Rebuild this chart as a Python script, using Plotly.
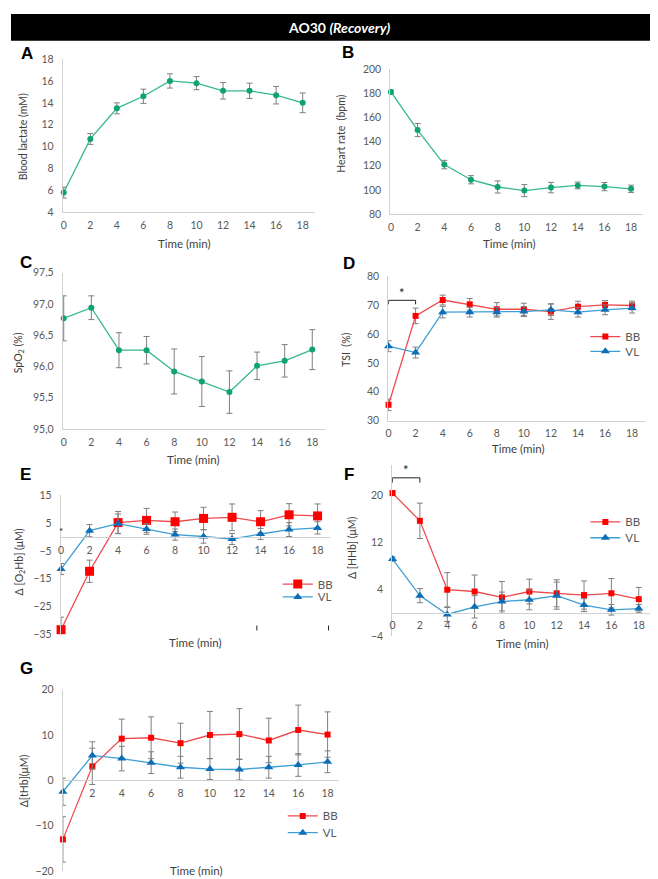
import plotly.graph_objects as go

W, H = 658, 879

# ---------------- data ----------------
time_min = [0, 2, 4, 6, 8, 10, 12, 14, 16, 18]

lactate = [5.8, 10.7, 13.5, 14.6, 16.0, 15.8, 15.1, 15.1, 14.7, 14.0]
lactate_sd = [0.5, 0.5, 0.5, 0.65, 0.65, 0.6, 0.75, 0.7, 0.8, 0.9]

heart_rate = [181, 149.5, 121, 108.5, 102.5, 99.5, 102, 103.8, 102.8, 101]
heart_rate_sd = [1.6, 5.4, 3.5, 3.4, 5, 5, 4.3, 2.8, 3.4, 3]

spo2 = [96.77, 96.94, 96.26, 96.26, 95.92, 95.76, 95.59, 96.01, 96.09, 96.27]
spo2_sd = [0.36, 0.19, 0.28, 0.22, 0.36, 0.4, 0.34, 0.22, 0.26, 0.32]

tsi_bb = [35.5, 66.3, 71.8, 70.3, 68.6, 68.6, 67.8, 69.5, 70.1, 69.9]
tsi_bb_sd = [2.0, 2.7, 1.7, 2.0, 2.3, 2.1, 2.7, 1.9, 1.5, 1.5]
tsi_vl = [55.8, 53.6, 67.6, 67.6, 67.6, 67.8, 68.4, 67.6, 68.4, 69.0]
tsi_vl_sd = [1.9, 1.9, 2.0, 1.7, 1.7, 1.7, 2.0, 1.7, 1.7, 1.7]

o2hb_bb = [-33.3, -12.3, 5.2, 6.0, 5.5, 6.7, 7.1, 5.5, 8.0, 7.6]
o2hb_bb_sd = [4.5, 4.0, 4.0, 4.3, 3.5, 4.0, 4.8, 4.0, 4.0, 4.3]
o2hb_vl = [-11.5, 2.3, 4.8, 2.9, 0.9, 0.2, -0.7, 1.1, 2.7, 3.3]
o2hb_vl_sd = [2.0, 2.2, 3.5, 1.9, 2.0, 2.4, 2.0, 2.0, 2.5, 2.2]

hhb_bb = [20.3, 15.6, 3.9, 3.6, 2.6, 3.6, 3.3, 3.0, 3.3, 2.3]
hhb_bb_sd = [0.4, 3.0, 2.9, 2.8, 2.7, 2.1, 2.3, 2.4, 2.5, 2.0]
hhb_vl = [9.1, 2.9, -0.3, 1.0, 1.9, 2.2, 2.9, 1.3, 0.5, 0.7]
hhb_vl_sd = [0.4, 1.2, 1.2, 1.9, 1.6, 1.7, 2.3, 1.1, 0.9, 0.7]

thb_bb = [-13.0, 3.1, 9.2, 9.4, 8.2, 10.0, 10.2, 8.8, 11.1, 10.1]
thb_bb_sd = [5.0, 4.0, 4.3, 4.6, 4.4, 5.2, 5.6, 4.9, 5.5, 5.0]
thb_vl = [-2.5, 5.5, 4.8, 3.9, 2.9, 2.5, 2.4, 2.9, 3.4, 4.1]
thb_vl_sd = [3.0, 3.0, 2.7, 2.4, 2.4, 2.3, 2.3, 2.4, 2.5, 2.4]

# significance brackets (from time, to time, level, tick end, star level)
sig_d = (0, 2, 71.7, 70.3, 74.1)
sig_f = (0, 2, 22.9, 22.1, 24.3)

# ---------------- style ----------------
FONT = "Lato"
TICK_COL = "#595959"
TITLE_COL = "#404040"
AXIS_COL = "#d0d0d0"
ERR_COL = "#7f7f7f"
GREEN_LINE = "#35b88c"
GREEN = "#0ea46c"
RED_LINE = "#ee4a4e"
RED = "#ff0000"
BLUE_LINE = "#3d9fd4"
BLUE = "#0d6db6"


def dx(a, b):
    return [a / W, b / W]


def dy(top, bottom):
    return [1 - bottom / H, 1 - top / H]


fig = go.Figure()

panels = {
    1: dict(xd=(52, 305), xr=[-0.075, 18.9], yd=(45.7, 201), yr=[4, 18], yt=list(range(4, 19, 2)), free=None),
    2: dict(xd=(381, 635), xr=[-0.05, 18.9], yd=(55.7, 203), yr=[80, 200], yt=list(range(80, 201, 20)), free=None),
    3: dict(xd=(52, 315), xr=[-0.07, 18.89], yd=(262.3, 420.7), yr=[95, 97.5], yt=[95, 95.5, 96, 96.5, 97, 97.5], free=None),
    4: dict(xd=(379, 637), xr=[-0.02, 18.96], yd=(266, 412.3), yr=[30, 80], yt=list(range(30, 81, 10)), free=None),
    5: dict(xd=(50, 320), xr=[-0.02, 18.84], yd=(488, 629), yr=[-35, 15], yt=list(range(-35, 16, 10)), free=530.3),
    6: dict(xd=(383, 643), xr=[-0.02, 18.9], yd=(457.7, 630.9), yr=[-4, 25], yt=[-4, 4, 12, 20], free=607),
    7: dict(xd=(52, 330), xr=[-0.01, 18.81], yd=(685, 869), yr=[-20, 20], yt=[-20, -10, 0, 10, 20], free=777),
}

layout_axes = {}
for i, p in panels.items():
    xk = "xaxis" if i == 1 else f"xaxis{i}"
    yk = "yaxis" if i == 1 else f"yaxis{i}"
    xa = "x" if i == 1 else f"x{i}"
    ya = "y" if i == 1 else f"y{i}"
    xticks = time_min if i != 7 else time_min[1:]
    xax = dict(domain=dx(*p["xd"]), range=p["xr"], showgrid=False, zeroline=False,
               showline=True, linecolor=AXIS_COL, linewidth=1, ticks="",
               tickvals=xticks, ticktext=[str(t) for t in xticks],
               tickfont=dict(family=FONT, size=10.5, color=TICK_COL), ticklabelstandoff=3)
    if p["free"] is None:
        xax["anchor"] = ya
    else:
        xax["anchor"] = "free"
        xax["position"] = 1 - p["free"] / H
    yax = dict(domain=dy(*p["yd"]), range=p["yr"], anchor=xa, showgrid=False, zeroline=False,
               showline=True, linecolor=AXIS_COL, linewidth=1, ticks="",
               tickvals=p["yt"], tickfont=dict(family=FONT, size=10.5, color=TICK_COL),
               ticklabelstandoff=6)
    if i == 3:
        yax["tickformat"] = ".1f"
    layout_axes[xk] = xax
    layout_axes[yk] = yax


def err(arr):
    return dict(type="data", array=arr, color=ERR_COL, thickness=1, width=3)


def single(y, sd, i):
    xa = "x" if i == 1 else f"x{i}"
    ya = "y" if i == 1 else f"y{i}"
    fig.add_trace(go.Scatter(x=time_min, y=y, error_y=err(sd), mode="lines+markers",
                             line=dict(color=GREEN_LINE, width=1.3),
                             marker=dict(color=GREEN, size=6, symbol="circle"),
                             xaxis=xa, yaxis=ya, showlegend=False, cliponaxis=False))


single(lactate, lactate_sd, 1)
single(heart_rate, heart_rate_sd, 2)
single(spo2, spo2_sd, 3)


def pair(bb, bb_sd, vl, vl_sd, i, leg_bb, leg_vl, bb_size=6, vl_size=8):
    xa = f"x{i}"
    ya = f"y{i}"
    fig.add_trace(go.Scatter(x=time_min, y=bb, error_y=err(bb_sd), mode="lines+markers", name="BB",
                             line=dict(color=RED_LINE, width=1.3),
                             marker=dict(color=RED, size=bb_size, symbol="square"),
                             xaxis=xa, yaxis=ya, legend=leg_bb, cliponaxis=False))
    fig.add_trace(go.Scatter(x=time_min, y=vl, error_y=err(vl_sd), mode="lines+markers", name="VL",
                             line=dict(color=BLUE_LINE, width=1.3),
                             marker=dict(color=BLUE, size=vl_size, symbol="triangle-up"),
                             xaxis=xa, yaxis=ya, legend=leg_vl, cliponaxis=False))


pair(tsi_bb, tsi_bb_sd, tsi_vl, tsi_vl_sd, 4, "legend", "legend2")
pair(o2hb_bb, o2hb_bb_sd, o2hb_vl, o2hb_vl_sd, 5, "legend3", "legend4", bb_size=9, vl_size=8)
pair(hhb_bb, hhb_bb_sd, hhb_vl, hhb_vl_sd, 6, "legend5", "legend6")
pair(thb_bb, thb_bb_sd, thb_vl, thb_vl_sd, 7, "legend7", "legend8")

shapes = []
annotations = []
for sig, i in ((sig_d, 4), (sig_f, 6)):
    x0, x1, lev, low, star = sig
    shapes.append(dict(type="path", xref=f"x{i}", yref=f"y{i}",
                       path=f"M {x0},{low} L {x0},{lev} L {x1},{lev} L {x1},{low}",
                       line=dict(color="#202020", width=1)))
    annotations.append(dict(x=(x0 + x1) / 2, y=star, xref=f"x{i}", yref=f"y{i}", text="*",
                            showarrow=False, font=dict(family=FONT, size=13, color="#202020"),
                            yanchor="middle"))

annotations.append(dict(x=0, y=2.0, xref="x5", yref="y5", text="*", showarrow=False,
                        font=dict(family=FONT, size=10, color="#202020")))

# title bar
shapes.append(dict(type="rect", xref="paper", yref="paper", x0=0, x1=1, y0=1 - 27 / H, y1=1,
                   fillcolor="black", line=dict(width=0), layer="below"))
annotations.append(dict(x=0.5, y=1 - 14 / H, xref="paper", yref="paper",
                        text="<b>AO30 <i>(Recovery)</i></b>", showarrow=False,
                        font=dict(family=FONT, size=14, color="white"), yanchor="middle"))

# stray ticks in E
for xp in (247, 319):
    shapes.append(dict(type="line", xref="paper", yref="paper", x0=xp / W, x1=xp / W,
                       y0=1 - 625 / H, y1=1 - 620 / H, line=dict(color="#202020", width=1)))

# panel letters
for letter, xp, yp in (("A", 16, 40), ("B", 339, 39), ("C", 15, 252), ("D", 340, 253),
                       ("E", 15, 467), ("F", 340, 467), ("G", 16, 664)):
    annotations.append(dict(x=xp / W, y=1 - yp / H, xref="paper", yref="paper", text=f"<b>{letter}</b>",
                            showarrow=False, font=dict(family="Liberation Sans", size=17, color="black"),
                            xanchor="center", yanchor="middle"))

# y titles
for txt, xp, yp in (("Blood lactate (mM)", 12, 124), ("Heart rate  (bpm)", 332, 121),
                    ("SpO<sub>2</sub> (%)", 8, 343), ("TSI  (%)", 337, 340),
                    ("Δ [O<sub>2</sub>Hb] (μM)", 9, 555), ("Δ [HHb] (μM)", 342, 541),
                    ("Δ[tHb](μM)", 13, 777)):
    annotations.append(dict(x=xp / W, y=1 - yp / H, xref="paper", yref="paper", text=txt,
                            showarrow=False, textangle=-90,
                            font=dict(family=FONT, size=10.5, color=TITLE_COL),
                            xanchor="center", yanchor="middle"))

# x titles
for xp, yp in ((174, 233), (500, 233), (183, 452), (509, 441), (185, 637), (513, 638), (186, 868)):
    annotations.append(dict(x=xp / W, y=1 - yp / H, xref="paper", yref="paper", text="Time (min)",
                            showarrow=False, font=dict(family=FONT, size=11.5, color=TITLE_COL),
                            xanchor="center", yanchor="middle"))

# legends, one entry each
leg_pos = {
    "legend": (577, 327), "legend2": (577, 342),
    "legend3": (268, 578), "legend4": (268, 591),
    "legend5": (577, 515), "legend6": (577, 531),
    "legend7": (273, 813), "legend8": (273, 830),
}
legends = {}
for k, (xp, yp) in leg_pos.items():
    legends[k] = dict(x=xp / W, y=1 - yp / H, xanchor="left", yanchor="middle",
                      bgcolor="rgba(0,0,0,0)", borderwidth=0,
                      font=dict(family=FONT, size=11.5, color=TICK_COL), itemwidth=30)

fig.update_layout(
    width=W, height=H, margin=dict(l=0, r=0, t=0, b=0),
    paper_bgcolor="white", plot_bgcolor="rgba(0,0,0,0)",
    separators=", ",
    shapes=shapes, annotations=annotations,
    **layout_axes, **legends,
)

fig.write_html("out.html")
